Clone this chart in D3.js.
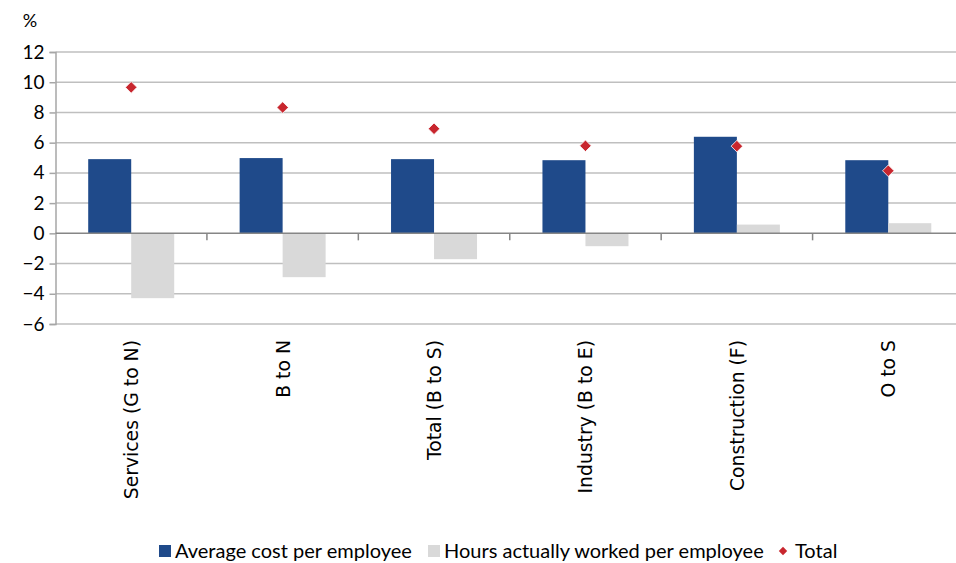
<!DOCTYPE html>
<html>
<head>
<meta charset="utf-8">
<script src="https://cdn.jsdelivr.net/npm/d3@7"></script>
<style>
  body { margin: 0; background: #fff; }
  svg { display: block; }
</style>
</head>
<body>
<div id="chart"></div>
<script>
// Chart data.
const categories = ["Services (G to N)", "B to N", "Total (B to S)", "Industry (B to E)", "Construction (F)", "O to S"];
const avgCost = [4.91, 4.98, 4.91, 4.84, 6.39, 4.84];
const hoursWorked = [-4.29, -2.9, -1.71, -0.85, 0.58, 0.67];
const totals = [9.66, 8.33, 6.92, 5.79, 5.77, 4.14];
const yTicks = [-6, -4, -2, 0, 2, 4, 6, 8, 10, 12];
const seriesNames = ["Average cost per employee", "Hours actually worked per employee", "Total"];

const width = 956, height = 563;
const margin = { top: 52, right: -8, bottom: 239, left: 55.5 };
const colors = { blue: "#1F4A8A", gray: "#D9D9D9", red: "#C8262E" };

const svg = d3.select("#chart").append("svg")
  .attr("width", width)
  .attr("height", height);

// Scales.
const x = d3.scaleBand()
  .domain(categories)
  .range([margin.left, width - margin.right])
  .paddingInner(0)
  .paddingOuter(0);

const y = d3.scaleLinear()
  .domain([-6, 12])
  .range([height - margin.bottom, margin.top]);

const barW = x.bandwidth() * 0.284;

// Horizontal gridlines.
svg.append("g")
  .selectAll("line")
  .data(yTicks.filter(d => d !== 0))
  .enter()
  .append("line")
  .attr("x1", margin.left)
  .attr("x2", width - margin.right)
  .attr("y1", d => y(d))
  .attr("y2", d => y(d))
  .attr("stroke", "#BFBFBF")
  .attr("stroke-width", 1.5);

// Y axis line and ticks.
const yAxis = svg.append("g")
  .attr("transform", `translate(${margin.left},0)`)
  .call(d3.axisLeft(y).tickValues(yTicks).tickSize(6).tickPadding(5).tickFormat(d3.format("d")));
yAxis.select(".domain").attr("stroke", "#A6A6A6").attr("stroke-width", 1.5);
yAxis.selectAll(".tick line").attr("stroke", "#A6A6A6").attr("stroke-width", 1.5);
yAxis.selectAll(".tick text")
  .attr("font-family", "Lato, 'Open Sans', sans-serif")
  .attr("font-size", 19)
  .attr("fill", "#000");

// "%" unit label.
svg.append("text")
  .attr("x", 30)
  .attr("y", 27)
  .attr("text-anchor", "middle")
  .attr("font-family", "Lato, sans-serif")
  .attr("font-size", 18)
  .text("%");

// Bars: average cost per employee.
svg.append("g")
  .selectAll("rect")
  .data(categories)
  .enter()
  .append("rect")
  .attr("x", d => x(d) + x.bandwidth() / 2 - barW)
  .attr("width", barW)
  .attr("y", (d, i) => y(Math.max(0, avgCost[i])))
  .attr("height", (d, i) => Math.abs(y(avgCost[i]) - y(0)))
  .attr("fill", colors.blue);

// Bars: hours actually worked per employee.
svg.append("g")
  .selectAll("rect")
  .data(categories)
  .enter()
  .append("rect")
  .attr("x", d => x(d) + x.bandwidth() / 2)
  .attr("width", barW)
  .attr("y", (d, i) => y(Math.max(0, hoursWorked[i])))
  .attr("height", (d, i) => Math.abs(y(hoursWorked[i]) - y(0)))
  .attr("fill", colors.gray);

// Zero axis line with category ticks.
svg.append("line")
  .attr("x1", margin.left)
  .attr("x2", width - margin.right)
  .attr("y1", y(0))
  .attr("y2", y(0))
  .attr("stroke", "#868686")
  .attr("stroke-width", 1.5);

svg.append("g")
  .selectAll("line")
  .data(categories.slice(1))
  .enter()
  .append("line")
  .attr("x1", d => x(d))
  .attr("x2", d => x(d))
  .attr("y1", y(0))
  .attr("y2", y(0) + 7)
  .attr("stroke", "#868686")
  .attr("stroke-width", 1.5);

// Total markers (diamonds).
const diamond = d3.symbol().type(d3.symbolDiamond2).size(85);
svg.append("g")
  .selectAll("path")
  .data(categories)
  .enter()
  .append("path")
  .attr("d", diamond)
  .attr("transform", (d, i) => `translate(${x(d) + x.bandwidth() / 2},${y(totals[i])})`)
  .attr("fill", colors.red)
  .attr("stroke", "#fff")
  .attr("stroke-width", 0.8);

// Category labels, rotated.
svg.append("g")
  .selectAll("text")
  .data(categories)
  .enter()
  .append("text")
  .attr("transform", d => `translate(${x(d) + x.bandwidth() / 2 + 7},${y(-6) + 16}) rotate(-90)`)
  .attr("text-anchor", "end")
  .attr("font-family", "'DejaVu Sans', sans-serif")
  .attr("font-size", 18.8)
  .attr("fill", "#000")
  .text(d => d);

// Legend.
const legend = svg.append("g").attr("font-family", "Lato, sans-serif").attr("font-size", 20);
const legendItems = [
  { name: seriesNames[0], color: colors.blue, type: "rect", x: 159 },
  { name: seriesNames[1], color: colors.gray, type: "rect", x: 428 },
  { name: seriesNames[2], color: colors.red, type: "diamond", x: 779 }
];
legendItems.forEach(item => {
  if (item.type === "rect") {
    legend.append("rect")
      .attr("x", item.x)
      .attr("y", 545)
      .attr("width", 12)
      .attr("height", 12)
      .attr("fill", item.color);
  } else {
    legend.append("path")
      .attr("d", d3.symbol().type(d3.symbolDiamond2).size(45))
      .attr("transform", `translate(${item.x + 4},551)`)
      .attr("fill", item.color);
  }
  legend.append("text")
    .attr("x", item.x + 16)
    .attr("y", 558)
    .attr("fill", "#000")
    .text(item.name);
});
</script>
</body>
</html>
